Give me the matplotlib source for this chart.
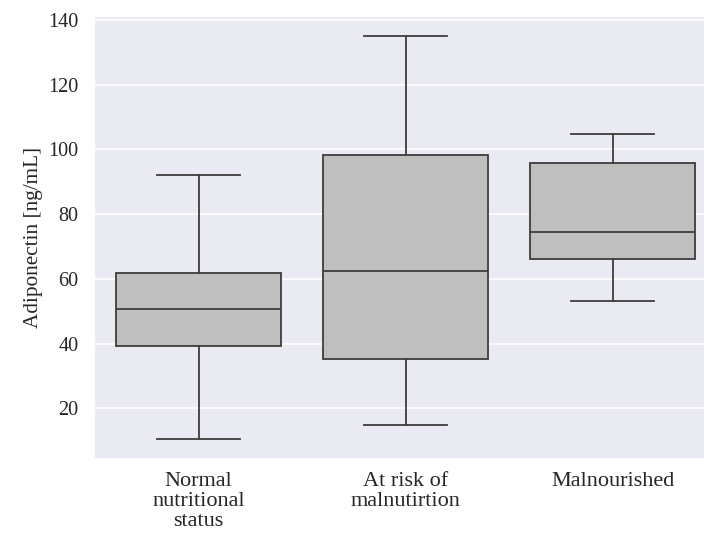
#!/usr/bin/env python3
import matplotlib
matplotlib.use("Agg")
import matplotlib.pyplot as plt

# box statistics (ng/mL)
groups = ["Normal\nnutritional\nstatus", "At risk of\nmalnutirtion", "Malnourished"]
whisker_low = [10.5, 14.8, 53.2]
q1 = [39.4, 35.2, 66.3]
median = [50.6, 62.6, 74.4]
q3 = [61.8, 98.3, 95.9]
whisker_high = [92.1, 135.0, 104.8]
yticks = [20, 40, 60, 80, 100, 120, 140]


def main():
    plt.rcParams["font.family"] = ["Liberation Serif", "DejaVu Serif"]
    fig = plt.figure(figsize=(7.04, 5.35), dpi=100)
    ax = fig.add_axes([95 / 704, 1 - 458.3 / 535, 621 / 704, (458.3 - 17) / 535])
    ax.set_facecolor("#eaeaf2")
    for s in ax.spines.values():
        s.set_visible(False)
    ax.grid(axis="y", color="white", linewidth=1.2)
    ax.set_axisbelow(True)

    stats = []
    for i in range(len(groups)):
        stats.append({"whislo": whisker_low[i], "q1": q1[i], "med": median[i],
                      "q3": q3[i], "whishi": whisker_high[i], "fliers": []})

    edge = "#3d3d3d"
    ax.bxp(stats, positions=range(len(groups)), widths=0.8, patch_artist=True,
           showfliers=False,
           boxprops=dict(facecolor="#bfbfbf", edgecolor=edge, linewidth=1.3),
           medianprops=dict(color=edge, linewidth=1.3),
           whiskerprops=dict(color=edge, linewidth=1.3),
           capprops=dict(color=edge, linewidth=1.3))

    ax.set_xlim(-0.5, 2.5)
    ax.set_ylim(4.6, 140.9)
    ax.set_yticks(yticks)
    ax.set_xticks(range(len(groups)))
    ax.set_xticklabels(groups, fontsize=16, linespacing=1.08)
    ax.tick_params(axis="both", length=0, colors="#262626")
    ax.tick_params(axis="y", pad=12, labelsize=14.5)
    ax.tick_params(axis="x", pad=10)
    ax.set_ylabel("Adiponectin [ng/mL]", fontsize=15.3, color="#262626", labelpad=4)

    fig.savefig("out.png", dpi=100)


if __name__ == "__main__":
    main()
